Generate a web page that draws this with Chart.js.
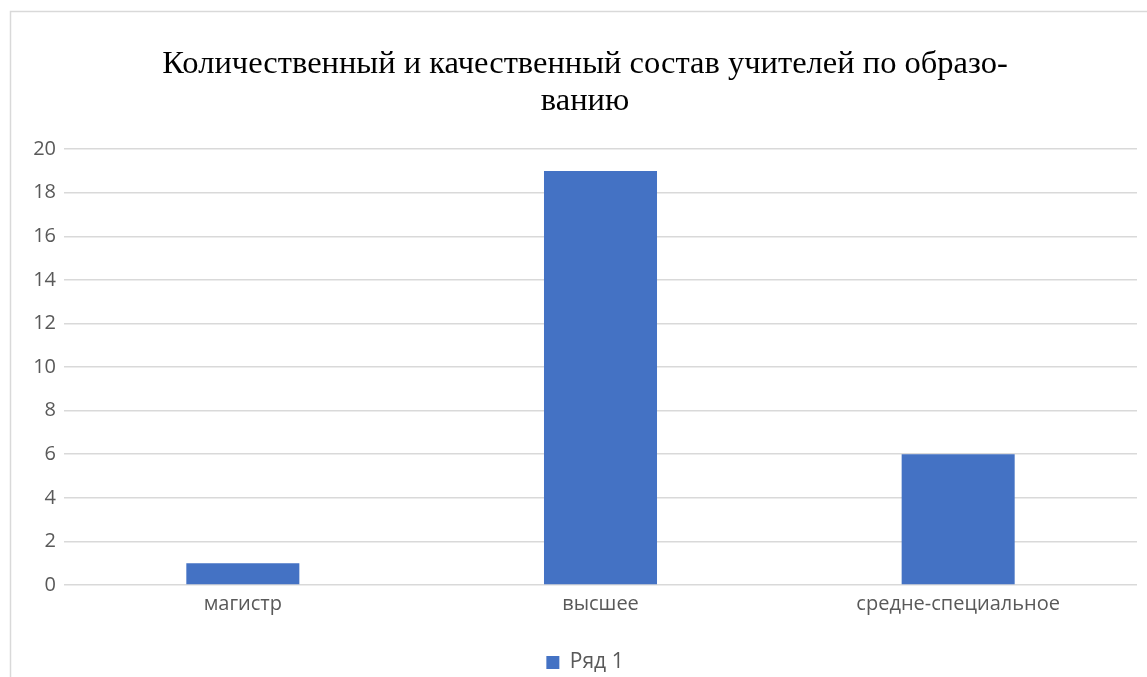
<!DOCTYPE html>
<html lang="ru">
<head>
<meta charset="UTF-8">
<title>Состав учителей</title>
<script src="https://cdn.jsdelivr.net/npm/chart.js"></script>
<style>
  html, body { margin: 0; padding: 0; background: #fff; }
  #wrap { width: 1147px; height: 677px; position: relative; }
</style>
</head>
<body>
<div id="wrap"><canvas id="chart"></canvas></div>
<script>
  const categories = ['магистр', 'высшее', 'средне-специальное'];
  const seriesName = 'Ряд 1';
  const seriesValues = [1, 19, 6];
  const titleLines = ['Количественный и качественный состав учителей по образо-', 'ванию'];

  // light frame around the chart, like an Office chart object
  const framePlugin = {
    id: 'frame',
    beforeDraw(chart) {
      const c = chart.ctx;
      c.save();
      c.strokeStyle = '#d9d9d9';
      c.lineWidth = 1.5;
      c.strokeRect(10.5, 11.5, chart.width + 20, chart.height + 20);
      c.restore();
    }
  };

  new Chart(document.getElementById('chart'), {
    type: 'bar',
    data: {
      labels: categories,
      datasets: [{
        label: seriesName,
        data: seriesValues,
        backgroundColor: '#4472c4',
        barPercentage: 0.316,
        categoryPercentage: 1
      }]
    },
    options: {
      responsive: true,
      maintainAspectRatio: false,
      animation: false,
      layout: { padding: { left: 33, right: 10, top: 46, bottom: -6 } },
      plugins: {
        title: {
          display: true,
          text: titleLines,
          color: '#000',
          font: { family: 'Liberation Serif', size: 32.5, weight: 'normal', lineHeight: 1.14 },
          padding: { top: 0, bottom: 29 }
        },
        legend: {
          position: 'bottom',
          labels: {
            color: '#595959',
            font: { family: 'Open Sans', size: 21 },
            boxWidth: 13,
            boxHeight: 13,
            padding: 4
          }
        },
        tooltip: { enabled: false }
      },
      scales: {
        x: {
          afterFit(scale) { scale.height = 63; },
          grid: { display: false },
          border: { display: false },
          ticks: { color: '#595959', font: { family: 'Open Sans', size: 20 }, padding: -1 }
        },
        y: {
          min: 0,
          max: 20,
          afterFit(scale) { scale.width = 31; },
          grid: { color: '#d9d9d9', lineWidth: 1.5, drawTicks: false },
          border: { display: false },
          ticks: { stepSize: 2, color: '#595959', font: { family: 'Open Sans', size: 20 }, padding: 8 }
        }
      }
    },
    plugins: [framePlugin]
  });
</script>
</body>
</html>
